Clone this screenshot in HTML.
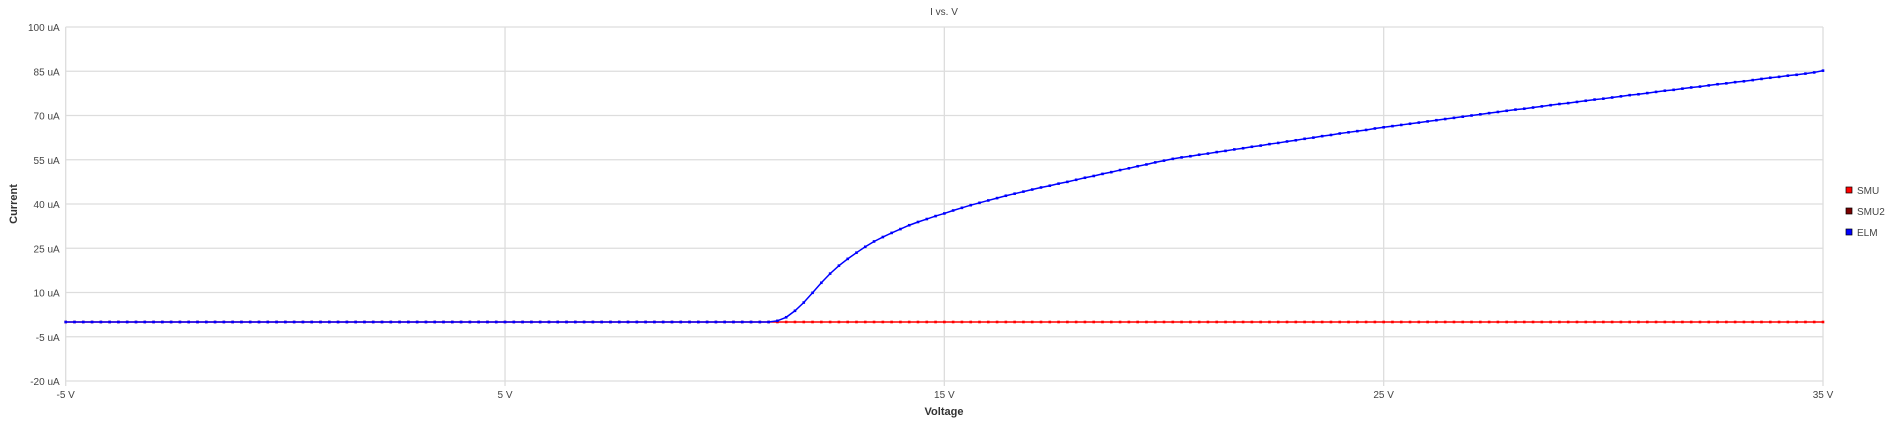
<!DOCTYPE html>
<html><head><meta charset="utf-8">
<style>
html,body{margin:0;padding:0;background:#fff;}
svg{display:block;font-family:"Liberation Sans",sans-serif;}
</style></head>
<body>
<svg id="chart" width="1902" height="424" viewBox="0 0 1902 424" xmlns="http://www.w3.org/2000/svg">
<text x="944" y="15" font-size="10" fill="#444" text-anchor="middle">I vs. V</text>
<g id="grid"></g>
<g id="series"></g>
<text transform="translate(17,204) rotate(-90)" font-size="11" font-weight="bold" fill="#333" text-anchor="middle">Current</text>
<text x="944" y="415" font-size="11" font-weight="bold" fill="#333" text-anchor="middle">Voltage</text>
<g>
  <g><rect x="1846" y="187" width="6" height="6" fill="#ff0000" stroke="#000" stroke-width="0.7"/><text x="1857" y="194" font-size="10" fill="#444">SMU</text></g>
  <g><rect x="1846" y="208" width="6" height="6" fill="#7a0000" stroke="#000" stroke-width="0.7"/><text x="1857" y="215" font-size="10" fill="#444">SMU2</text></g>
  <g><rect x="1846" y="229" width="6" height="6" fill="#0000ff" stroke="#000" stroke-width="0.7"/><text x="1857" y="236" font-size="10" fill="#444">ELM</text></g>
</g>
</svg>
<script>
const xTicks=[-5,5,15,25,35];
const xTickLabels=["-5 V","5 V","15 V","25 V","35 V"];
const yTicks=[-20,-5,10,25,40,55,70,85,100];
const yTickLabels=["-20 uA","-5 uA","10 uA","25 uA","40 uA","55 uA","70 uA","85 uA","100 uA"];
const voltages=[];
for(let k=0;k<=200;k++){voltages.push(+(-5+0.2*k).toFixed(1));}
const smuCurrent=voltages.map(()=>0);
const elmFlat=[0,0,0,0,0,0,0,0,0,0,0,0,0,0,0,0,0,0,0,0,0,0,0,0,0,0,0,0,0,0,0,0,0,0,0,0,0,0,0,0,
0,0,0,0,0,0,0,0,0,0,0,0,0,0,0,0,0,0,0,0,0,0,0,0,0,0,0,0,0,0,0,0,0,0,0,0,0,0,0,0];
const elmRise=[0,0.4,1.6,3.8,6.6,9.9,13.3,16.4,19.1,21.4,23.5,25.5,27.3,28.8,30.2,31.5,32.8,33.9,34.9,35.9,
36.8,37.8,38.7,39.6,40.4,41.2,42.0,42.8,43.5,44.2,44.9,45.6,46.2,46.9,47.5,48.2,48.9,49.5,50.2,50.8,
51.5,52.1,52.8,53.4,54.1,54.7,55.3,55.8,56.2,56.7,57.1,57.6,58.0,58.5,58.9,59.4,59.8,60.3,60.7,61.2,
61.6,62.1,62.5,63.0,63.4,63.9,64.3,64.7,65.1,65.6,66.0,66.4,66.8,67.2,67.6,68.0,68.4,68.8,69.2,69.6,
70.0,70.4,70.8,71.2,71.6,72.0,72.3,72.7,73.1,73.5,73.9,74.2,74.6,75.0,75.4,75.7,76.1,76.5,76.9,77.2,
77.6,78.0,78.4,78.7,79.1,79.5,79.8,80.2,80.6,80.9,81.3,81.6,82.0,82.4,82.8,83.1,83.5,83.8,84.2,84.6,85.2];
const elmCurrent=elmFlat.concat(elmRise);

const L=65.7,R=1823,T=27,B=381;
const xMin=-5,xMax=35,yMin=-20,yMax=100;
const xs=v=>L+(v-xMin)/(xMax-xMin)*(R-L);
const ys=v=>B-(v-yMin)/(yMax-yMin)*(B-T);
const NS="http://www.w3.org/2000/svg";
const grid=document.getElementById('grid');
const ser=document.getElementById('series');
function mk(tag,attrs,parent){const e=document.createElementNS(NS,tag);for(const k in attrs)e.setAttribute(k,attrs[k]);parent.appendChild(e);return e;}
yTicks.forEach((t,i)=>{
  const ln=mk('line',{x1:L,x2:R,y1:ys(t),y2:ys(t),stroke:'#dddddd','stroke-width':1.3},grid);
  
  
  const tx=mk('text',{x:L-6,y:ys(t)+4,'font-size':10,fill:'#444','text-anchor':'end'},grid);
  tx.textContent=yTickLabels[i];
  
  
});
xTicks.forEach((t,i)=>{
  const ln=mk('line',{x1:xs(t),x2:xs(t),y1:T,y2:B+5,stroke:'#dddddd','stroke-width':1.3},grid);
  
  
  const tx=mk('text',{x:xs(t),y:B+17,'font-size':10,fill:'#444','text-anchor':'middle'},grid);
  tx.textContent=xTickLabels[i];
  
  
});
function drawSeries(vals,color,name){
  const g=mk('g',{},ser);
  
  
  const d=vals.map((v,i)=>(i?'L':'M')+xs(voltages[i]).toFixed(2)+','+ys(v).toFixed(2)).join('');
  const p=mk('path',{d:d,fill:'none',stroke:color,'stroke-width':1.5},g);
  
  
  vals.forEach((v,i)=>{
    const r=mk('rect',{x:xs(voltages[i])-1.3,y:ys(v)-1.3,width:2.6,height:2.6,fill:color},g);
    
    
  });
}
drawSeries(smuCurrent,'#ff0000','smu-series');
drawSeries(elmCurrent,'#0000ff','elm-series');
</script>
</body></html>
